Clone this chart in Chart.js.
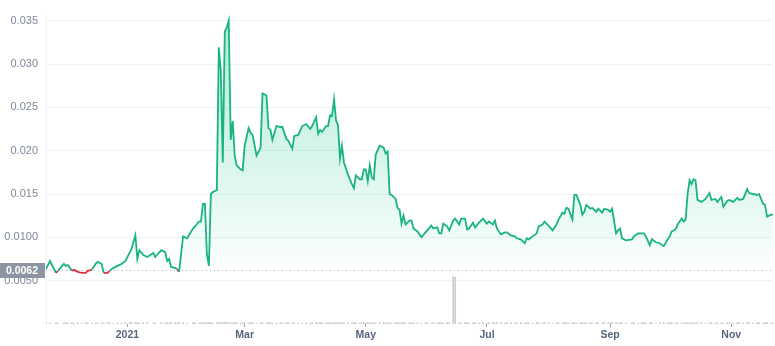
<!DOCTYPE html>
<html>
<head>
<meta charset="utf-8">
<script src="https://cdn.jsdelivr.net/npm/chart.js@4.4.1/dist/chart.umd.min.js"></script>
<style>
  html, body { margin: 0; padding: 0; background: #fff; }
  #wrap { width: 775px; height: 346px; position: relative; }
</style>
</head>
<body>
<div id="wrap"><canvas id="chart"></canvas></div>
<script>
// days counted from 2021-01-01
const days = [
  -41, -39, -36, -35, -32, -31, -30, -28, -27, -25, -23, -21, -20, -18, -16, -15, -13, -12, -10, -9,
  -7, -5, -3, -1, 1, 2, 4, 5, 6, 8, 10, 13, 14, 17, 19, 20, 21, 22, 24, 25, 26,
  28, 30, 33, 34, 36, 37, 38, 39, 40, 41, 42, 43, 45, 46, 47, 48, 49, 50, 51, 52,
  53, 54, 55, 57, 58, 59, 61, 62, 63, 65, 67, 68, 70, 71, 72, 73, 75,
  77, 78, 80, 81, 83, 84, 86, 88, 90, 92, 93, 95, 96, 97, 98, 100, 101, 102, 103, 104,
  105, 106, 107, 108, 109, 111, 113, 114, 115, 117, 118, 119, 120, 121, 122, 123, 124, 125, 127, 129,
  130, 131, 132, 133, 135,
  136, 137, 138, 139, 140, 142, 143, 144, 146, 148, 150, 151, 153, 154, 156, 157, 158, 159, 161, 162,
  164, 165, 167, 168, 170, 171, 172, 174, 175, 177, 179, 181, 182, 184, 185, 186, 188, 190, 191, 193,
  195, 196, 198, 200, 201, 202, 204, 206, 207, 209, 210, 212, 214, 216,
  217, 219, 220, 221, 222, 224, 225, 226, 228, 229, 230, 231, 233, 234, 236, 237, 239, 240, 242, 243,
  244, 246, 247, 248, 249, 251, 254, 255, 257, 259, 260, 261, 263, 264, 266, 268, 270, 272,
  273, 274, 276, 277, 279, 280, 281, 282, 283, 284, 285, 286, 287, 289, 291, 293, 294, 296, 297, 299,
  300, 302, 303, 305, 307, 308, 310, 312, 313, 315, 317, 318, 320, 321, 322, 324, 325
];

const prices = [
  0.00636, 0.00727, 0.00591, 0.00614, 0.00693, 0.00670, 0.00682, 0.00614, 0.00625, 0.00602,
  0.00591, 0.00591, 0.00614, 0.00625, 0.00693, 0.00716, 0.00693, 0.00591, 0.00591, 0.00614,
  0.00648, 0.00670, 0.00693, 0.00727, 0.00818, 0.00864, 0.01023, 0.00750, 0.00852, 0.00795,
  0.00773, 0.00818, 0.00773, 0.00852, 0.00830, 0.00727, 0.00750, 0.00659, 0.00648, 0.00636, 0.00602,
  0.01011, 0.00989, 0.01102, 0.01125, 0.01182, 0.01182, 0.01386, 0.01386, 0.00807, 0.00670,
  0.01500, 0.01523, 0.01545, 0.03193, 0.02920, 0.01864, 0.03375, 0.03420, 0.03500, 0.02125,
  0.02341, 0.01943, 0.01830, 0.01784, 0.01773, 0.02057, 0.02261, 0.02205, 0.02182, 0.01943,
  0.02034, 0.02659, 0.02636, 0.02261, 0.02239, 0.02125, 0.02284,
  0.02273, 0.02273, 0.02136, 0.02114, 0.02023, 0.02170, 0.02182, 0.02284, 0.02307, 0.02250,
  0.02284, 0.02386, 0.02193, 0.02239, 0.02216, 0.02284, 0.02284, 0.02409, 0.02398, 0.02591,
  0.02352, 0.02295, 0.01909, 0.02057, 0.01864, 0.01727, 0.01614, 0.01568, 0.01716, 0.01670,
  0.01670, 0.01784, 0.01784, 0.01648, 0.01830, 0.01693, 0.01670, 0.01955, 0.02057, 0.02034,
  0.01966, 0.01989, 0.01500, 0.01489, 0.01443,
  0.01341, 0.01318, 0.01159, 0.01250, 0.01148, 0.01193, 0.01193, 0.01102, 0.01068, 0.01000,
  0.01057, 0.01080, 0.01136, 0.01102, 0.01114, 0.01045, 0.01045, 0.01159, 0.01125, 0.01080,
  0.01193, 0.01216, 0.01148, 0.01216, 0.01216, 0.01091, 0.01102, 0.01170, 0.01114, 0.01170,
  0.01216, 0.01159, 0.01182, 0.01148, 0.01193, 0.01102, 0.01034, 0.01057, 0.01057, 0.01023,
  0.01011, 0.00989, 0.00977, 0.00932, 0.00989, 0.00977, 0.01011, 0.01045, 0.01125, 0.01148,
  0.01182, 0.01136, 0.01080, 0.01148,
  0.01205, 0.01284, 0.01273, 0.01341, 0.01330, 0.01205, 0.01489, 0.01489, 0.01375, 0.01261,
  0.01295, 0.01375, 0.01330, 0.01341, 0.01295, 0.01330, 0.01284, 0.01330, 0.01318, 0.01295,
  0.01330, 0.01045, 0.01080, 0.01102, 0.00989, 0.00966, 0.00977, 0.01011, 0.01045, 0.01045,
  0.01045, 0.01011, 0.00909, 0.00977, 0.00943, 0.00932, 0.00898, 0.00977,
  0.01011, 0.01068, 0.01091, 0.01148, 0.01216, 0.01182, 0.01205, 0.01500, 0.01659, 0.01614,
  0.01670, 0.01659, 0.01432, 0.01409, 0.01443, 0.01511, 0.01432, 0.01443, 0.01409, 0.01466,
  0.01352, 0.01420, 0.01432, 0.01409, 0.01455, 0.01432, 0.01443, 0.01557, 0.01511, 0.01500,
  0.01489, 0.01500, 0.01386, 0.01375, 0.01239, 0.01261, 0.01261
];

// volume, same days as prices (tiny except the June spike)
const volumes = [
  3, 2, 3, 2, 3, 3, 2, 3, 2, 3, 2, 3, 3, 2, 3, 2, 3, 2, 3, 3,
  2, 3, 2, 3, 3, 4, 3, 3, 2, 3, 3, 2, 3, 3, 2, 3, 2, 3, 3, 2, 3,
  3, 2, 3, 3, 2, 3, 3, 2, 3, 3, 3, 2, 3, 4, 3, 3, 4, 3, 3, 3,
  2, 3, 3, 2, 3, 3, 2, 3, 3, 2, 3, 3, 2, 3, 3, 2, 3,
  3, 2, 3, 3, 2, 3, 3, 2, 3, 2, 3, 3, 2, 3, 3, 2, 3, 3, 2, 3,
  3, 2, 3, 3, 2, 3, 2, 3, 3, 2, 3, 3, 2, 3, 3, 2, 3, 2, 3, 3,
  2, 3, 3, 2, 3,
  3, 2, 3, 3, 2, 3, 2, 3, 3, 2, 3, 3, 2, 3, 2, 3, 3, 2, 3, 3,
  100, 98, 3, 2, 3, 3, 2, 3, 3, 2, 3, 2, 3, 3, 2, 3, 3, 2, 3, 3,
  2, 3, 3, 2, 3, 3, 2, 3, 3, 2, 3, 3, 2, 3,
  3, 2, 3, 3, 2, 3, 3, 2, 3, 3, 2, 3, 3, 2, 3, 3, 2, 3, 3, 2,
  3, 3, 2, 3, 3, 2, 3, 3, 2, 3, 3, 2, 3, 3, 2, 3, 3, 2,
  3, 3, 2, 3, 3, 2, 3, 3, 2, 3, 3, 2, 3, 3, 2, 3, 3, 2, 3, 3,
  2, 3, 3, 2, 3, 3, 2, 3, 3, 2, 3, 3, 2, 3, 3, 2, 3
];

const basePrice = 0.0062;

const xTickDays = [0, 59, 120, 181, 243, 304];
const xTickLabels = ['2021', 'Mar', 'May', 'Jul', 'Sep', 'Nov'];
const yTickValues = [0.005, 0.010, 0.015, 0.020, 0.025, 0.030, 0.035];
const yTickLabels = ['0.0050', '0.0100', '0.015', '0.020', '0.025', '0.030', '0.035'];

const green = '#19b47f';
const red = '#d9363e';

// baseline dotted line and price tag on the left
const baselinePlugin = {
  id: 'baseline',
  beforeDatasetsDraw(chart) {
    const { ctx, chartArea } = chart;
    const y = chart.scales.y.getPixelForValue(basePrice);
    ctx.save();
    ctx.strokeStyle = '#a6acb8';
    ctx.lineWidth = 1;
    ctx.setLineDash([1, 3]);
    ctx.beginPath();
    ctx.moveTo(chartArea.left, Math.round(y) + 0.5);
    ctx.lineTo(chartArea.right, Math.round(y) + 0.5);
    ctx.stroke();
    ctx.restore();
  },
  afterDraw(chart) {
    const { ctx, chartArea } = chart;
    const y = Math.round(chart.scales.y.getPixelForValue(basePrice));
    ctx.save();
    ctx.fillStyle = '#8d94a2';
    ctx.fillRect(0, y - 7, chartArea.left - 1, 15);
    ctx.fillStyle = '#fff';
    ctx.font = 'bold 10.5px "Liberation Sans", Arial, sans-serif';
    ctx.textAlign = 'right';
    ctx.textBaseline = 'middle';
    ctx.fillText(basePrice.toFixed(4), chartArea.left - 8, y + 1);
    ctx.restore();
  }
};

const ctx = document.getElementById('chart').getContext('2d');

new Chart(ctx, {
  data: {
    datasets: [
      {
        type: 'line',
        label: 'Price',
        data: days.map((d, i) => ({ x: d, y: prices[i] })),
        yAxisID: 'y',
        borderColor: green,
        borderWidth: 1.8,
        pointRadius: 0,
        tension: 0,
        fill: 'origin',
        backgroundColor: function(context) {
          const chart = context.chart;
          if (!chart.chartArea) return 'rgba(22,199,132,0.1)';
          const yScale = chart.scales.y;
          const top = yScale.getPixelForValue(0.035);
          const bottom = yScale.getPixelForValue(basePrice);
          const g = chart.ctx.createLinearGradient(0, top, 0, bottom);
          g.addColorStop(0, 'rgba(22,199,132,0.34)');
          g.addColorStop(0.5, 'rgba(22,199,132,0.18)');
          g.addColorStop(0.85, 'rgba(22,199,132,0.07)');
          g.addColorStop(1, 'rgba(22,199,132,0.0)');
          return g;
        },
        segment: {
          borderColor: c => ((c.p0.parsed.y + c.p1.parsed.y) / 2 < basePrice ? red : green)
        },
        order: 1
      },
      {
        type: 'bar',
        label: 'Volume',
        data: days.map((d, i) => ({ x: d, y: volumes[i] })),
        yAxisID: 'vol',
        backgroundColor: '#c9ccd2',
        barThickness: 1,
        order: 2
      }
    ]
  },
  options: {
    responsive: true,
    maintainAspectRatio: false,
    animation: false,
    layout: {
      padding: { top: 10, right: 2, left: 0, bottom: 0 }
    },
    plugins: {
      legend: { display: false },
      tooltip: { enabled: false }
    },
    scales: {
      x: {
        type: 'linear',
        min: -41,
        max: 325,
        offset: false,
        afterBuildTicks: scale => {
          scale.ticks = xTickDays.map(v => ({ value: v }));
        },
        afterFit: scale => { scale.height = 22; },
        grid: {
          display: true,
          offset: false,
          drawOnChartArea: false,
          drawTicks: true,
          tickLength: 3,
          color: '#9aa0ab'
        },
        border: { display: false },
        ticks: {
          autoSkip: false,
          maxRotation: 0,
          padding: 2,
          color: '#58667e',
          font: { family: '"Liberation Sans", Arial, sans-serif', size: 10.5, weight: 'bold' },
          callback: (value, index) => xTickLabels[index]
        }
      },
      y: {
        type: 'linear',
        position: 'left',
        min: 0,
        max: 0.0357,
        afterBuildTicks: scale => {
          scale.ticks = yTickValues.map(v => ({ value: v }));
        },
        afterFit: scale => { scale.width = 46; },
        grid: {
          color: '#eff1f4',
          drawTicks: false
        },
        border: { display: true, color: '#eff1f4' },
        ticks: {
          padding: 8,
          color: '#7f8799',
          font: { family: '"Liberation Sans", Arial, sans-serif', size: 11 },
          callback: (value, index) => yTickLabels[index]
        }
      },
      vol: {
        type: 'linear',
        display: false,
        min: 0,
        max: 650
      }
    }
  },
  plugins: [baselinePlugin]
});
</script>
</body>
</html>
